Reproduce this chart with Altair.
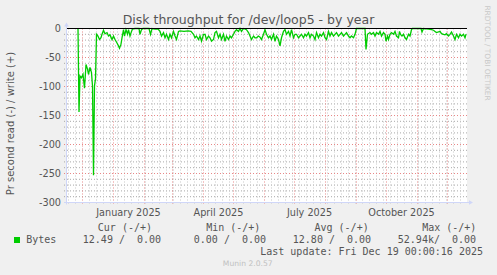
import altair as alt
import pandas as pd

# ---------------- data ----------------
T0 = pd.Timestamp("2024-11-15 12:00")          # left edge of the 400-day window
day_offset = [
    11, 12, 13, 14.5, 16, 17.5, 19, 20.5, 21.5, 23, 24.5, 25.5, 26.5, 27.5, 28.5, 29.5,
    31, 32.5, 34, 35, 36.5, 38, 40, 41.5, 43, 45, 46.5, 48, 50, 51.5, 52.5, 54, 55,
    56.5, 57.5, 59, 60.5, 61.5, 63, 64.5, 65.5, 68, 72, 73, 74.5, 76, 82, 83.5, 85,
    88, 91, 93, 94.5, 96.5, 98, 99.5, 101.5, 103, 104.5, 106.5, 108, 109.5, 111.5,
    113, 117, 121, 124, 126.5, 128, 129.5, 131.5, 133, 134.5, 136.5, 138, 139.5,
    141.5, 143, 144.5, 146.5, 148, 149.5, 151.5, 153, 154.5, 156.5, 158, 159.5,
    161.5, 163, 164.5, 166.5, 168, 169.5, 171.5, 173, 174.5, 176.5, 179.5, 181.5,
    183, 184.5, 186.5, 188, 189.5, 191.5, 193, 194.5, 196.5, 198, 199.5, 201.5, 203,
    204.5, 206.5, 208, 209.5, 211.5, 213, 214.5, 216.5, 218, 219.5, 221.5, 223,
    224.5, 226.5, 228, 229.5, 231.5, 233, 234.5, 236.5, 238, 239.5, 241.5, 243,
    244.5, 246.5, 248, 249.5, 251.5, 253, 254.5, 256.5, 258, 259.5, 261.5, 263,
    264.5, 266.5, 268, 269.5, 271.5, 273, 274.5, 276.5, 278, 279.5, 281.5, 283,
    284.5, 286.5, 288, 289.5, 298, 299, 300.5, 303, 304.5, 306.5, 308, 309.5, 311.5,
    313, 314.5, 316.5, 318, 319, 320.5, 321.5, 323, 324.5, 326.5, 328, 329.5, 331.5,
    332.5, 333.5, 335, 336.5, 338, 339.5, 341.5, 343, 344.5, 345.5, 354, 355, 356.5,
    361.5, 364.5, 366.5, 368, 369.5, 371.5, 373, 374.5, 376.5, 378, 379.5, 381.5,
    383, 384.5, 386.5, 388, 389.5, 391.5, 393, 394.5, 396.5, 398, 399,
]
read_bytes = [
    0, -144, -82, -85, -79, -103, -62, -70, -79, -67, -76, -99, -253, -99, -87, -10,
    -13, -19, -16, -10, -3, -9, -7, -13, -11, -19, -13, -19, -25, -30, -34, -27, -16,
    -2, -13, -2, -10, -2, -13, -5, -1, 0, 0, -10, -2, 0, 0, -10, 0,
    -1, -1, -5, -13, -7, -16, -10, -19, -10, -16, -5, -13, -19, -5,
    -4, -5, -4, -5, -10, -16, -13, -19, -13, -22, -10, -10, -19,
    -13, -16, -22, -19, -7, -5, -16, -10, -19, -10, -22, -13,
    -19, -13, -16, -10, -5, -2, -5, 0, -5, 0, -2, -7,
    -13, -19, -13, -16, -16, -13, -15, -19, -10, -2, -10, -16, -13,
    -19, -10, -22, -13, -19, -30, -16, -5, -2, -10, -5, -13,
    -2, -16, -10, -10, -16, -13, -10, -16, -10, -13, -7, -16,
    -10, -13, -19, -7, -16, -10, -13, -7, -16, -19, -5, -13,
    -7, -13, -10, -7, -13, -10, -7, -13, -10, -7, -13, -16,
    -13, -16, -10, 0, 0, -36, -10, -7, -10, -7, -13, -7, -10,
    -5, -13, -7, -10, -22, -13, -19, -10, -7, -10, -5, -13, -16,
    -5, -10, -13, -10, -16, -19, -10, -13, -2, 0, 0, -6, 0,
    -1, -2, -3, -5, -7, -6, -5, -9, -10, -11, -9, -13,
    -10, -6, -13, -19, -10, -16, -10, -13, -10, -16, -10,
]

y_ticks = [0, -50, -100, -150, -200, -250, -300]
y_major = [-50, -100, -150, -200, -250]
y_minor = [v for v in range(-290, 0, 10) if v % 50 != 0]

month_starts = ["2024-12-01", "2025-01-01", "2025-02-01", "2025-03-01", "2025-04-01",
                "2025-05-01", "2025-06-01", "2025-07-01", "2025-08-01", "2025-09-01",
                "2025-10-01", "2025-11-01", "2025-12-01"]
week_starts = [d.strftime("%Y-%m-%d") for d in pd.date_range("2024-11-17", "2025-12-14", freq="7D")
               if d.strftime("%Y-%m-%d") not in month_starts]

x_label_dates = ["2025-01-16", "2025-04-16", "2025-07-16", "2025-10-16"]
x_label_texts = ["January 2025", "April 2025", "July 2025", "October 2025"]

title_text = "Disk throughput for /dev/loop5 - by year"
y_title = "Pr second read (-) / write (+)"
series_name = "Bytes"
legend_headers = ["Cur (-/+)", "Min (-/+)", "Avg (-/+)", "Max (-/+)"]
legend_values = ["12.49 /\u00a0\u00a00.00", "0.00 /\u00a0\u00a00.00",
                 "12.80 /\u00a0\u00a00.00", "52.94k/\u00a0\u00a00.00"]
last_update = "Last update: Fri Dec 19 00:00:16 2025"
footer = "Munin 2.0.57"
watermark = "RRDTOOL / TOBI OETIKER"

# ---------------- chart ----------------
W, H = 400, 174
FONT = "DejaVu Sans"
MONO = "DejaVu Sans Mono"
TXT = "#555555"
AXIS = "#CFD6F8"
GRID_V = "#C8C8C8"
GRID_H = "#A8A8A8"
MGRID = "#E88888"

dates = [(T0 + pd.Timedelta(days=d)).strftime("%Y-%m-%dT%H:%M:%SZ") for d in day_offset]
df = pd.DataFrame({"date": dates, "read": read_bytes})

xscale = alt.Scale(type="utc", domain=[
    alt.DateTime(year=2024, month=11, date=15, hours=12, utc=True),
    alt.DateTime(year=2025, month=12, date=20, hours=12, utc=True)])
yscale = alt.Scale(domain=[-300, 0], nice=False, zero=False)

one = pd.DataFrame({"k": [0]})


def txt(s, x, y, **kw):
    return alt.Chart(pd.DataFrame({"s": [s]})).mark_text(**kw).encode(
        text="s:N", x=alt.value(x), y=alt.value(y))


minor_h = alt.Chart(pd.DataFrame({"v": y_minor})).mark_rule(
    color=GRID_H, strokeWidth=1, strokeDash=[1, 2]).encode(
    y=alt.Y("v:Q", scale=yscale, axis=None), x=alt.value(-3), x2=alt.value(W))
major_h = alt.Chart(pd.DataFrame({"v": y_major})).mark_rule(
    color=MGRID, strokeWidth=1, strokeDash=[1, 2]).encode(
    y=alt.Y("v:Q", scale=yscale, axis=None), x=alt.value(-3), x2=alt.value(W))
minor_v = alt.Chart(pd.DataFrame({"d": week_starts})).mark_rule(
    color=GRID_V, strokeWidth=1, strokeDash=[1, 2]).encode(
    x=alt.X("d:T", scale=xscale, axis=None), y=alt.value(0), y2=alt.value(H + 2))
major_v = alt.Chart(pd.DataFrame({"d": month_starts})).mark_rule(
    color=MGRID, strokeWidth=1, strokeDash=[1, 2]).encode(
    x=alt.X("d:T", scale=xscale, axis=None), y=alt.value(0), y2=alt.value(H + 2))

line = alt.Chart(df).mark_line(color="#00CC00", strokeWidth=1.3).encode(
    x=alt.X("date:T", scale=xscale, axis=None),
    y=alt.Y("read:Q", scale=yscale, axis=None))

zero = alt.Chart(pd.DataFrame({"v": [0]})).mark_rule(color="#000000", strokeWidth=1).encode(
    y=alt.Y("v:Q", scale=yscale, axis=None), x=alt.value(0), x2=alt.value(W))

x_axis_line = alt.Chart(one).mark_rule(color=AXIS, strokeWidth=1).encode(
    x=alt.value(-3), x2=alt.value(W + 3), y=alt.value(H))
y_axis_line = alt.Chart(one).mark_rule(color=AXIS, strokeWidth=1).encode(
    x=alt.value(-0.5), y=alt.value(H + 2), y2=alt.value(-3))
arrow_up = alt.Chart(one).mark_point(shape="triangle-up", filled=True, color=AXIS,
                                     opacity=1, size=22).encode(
    x=alt.value(-0.5), y=alt.value(-4))
arrow_right = alt.Chart(one).mark_point(shape="triangle-right", filled=True, color=AXIS,
                                        opacity=1, size=22).encode(
    x=alt.value(W + 4), y=alt.value(H))

y_labels = alt.Chart(pd.DataFrame({"v": y_ticks, "lab": [str(v) for v in y_ticks]})).mark_text(
    font=FONT, fontSize=9.7, color=TXT, baseline="middle", align="right").encode(
    y=alt.Y("v:Q", scale=yscale, axis=None), x=alt.value(-6), text="lab:N")

x_labels = alt.Chart(pd.DataFrame({"d": x_label_dates, "t": x_label_texts})).mark_text(
    font=FONT, fontSize=9.7, color=TXT, baseline="alphabetic", align="center").encode(
    x=alt.X("d:T", scale=xscale, axis=None), y=alt.value(187), text="t:N")

layers = [minor_h, minor_v, major_v, major_h, line, zero, x_axis_line, y_axis_line,
          arrow_up, arrow_right, y_labels, x_labels]

layers.append(txt(title_text, 181.5, -4.5, font=FONT, fontSize=12.5, color=TXT,
                  align="center", baseline="alphabetic"))
layers.append(txt(y_title, -56, 95, font=FONT, fontSize=10, color=TXT,
                  align="center", baseline="middle", angle=270))
layers.append(txt(watermark, 420, 24.5, font=FONT, fontSize=7.4, color="#C8C8C8",
                  align="center", baseline="middle", angle=90))

# legend
layers.append(alt.Chart(one).mark_square(color="#00CC00", size=36, opacity=1).encode(
    x=alt.value(-50), y=alt.value(211.5)))
layers.append(txt(series_name, -40.8, 211.5, font=MONO, fontSize=10, color=TXT,
                  align="left", baseline="middle"))
for s, x0 in zip(legend_headers, [30.8, 139.2, 247.5, 355.2]):
    layers.append(txt(s, x0, 199, font=MONO, fontSize=10, color=TXT,
                      align="left", baseline="middle"))
for s, x0 in zip(legend_values, [15.8, 126.8, 225.8, 330.8]):
    layers.append(txt(s, x0, 211.5, font=MONO, fontSize=10, color=TXT,
                      align="left", baseline="middle"))
layers.append(txt(last_update, 416, 223.5, font=MONO, fontSize=10, color=TXT,
                  align="right", baseline="middle"))
layers.append(txt(footer, 180.7, 235.5, font=FONT, fontSize=7.6, color="#C0C0C0",
                  align="center", baseline="middle"))

chart = alt.layer(*layers).properties(
    width=W, height=H,
    background="#F0F0F0",
    padding={"left": 67, "top": 28.5, "right": 30, "bottom": 72.5},
    autosize=alt.AutoSizeParams(type="none"),
).configure_view(fill="#FFFFFF", strokeWidth=0)

chart.save("out.html", embed_options={"renderer": "svg", "actions": False})
